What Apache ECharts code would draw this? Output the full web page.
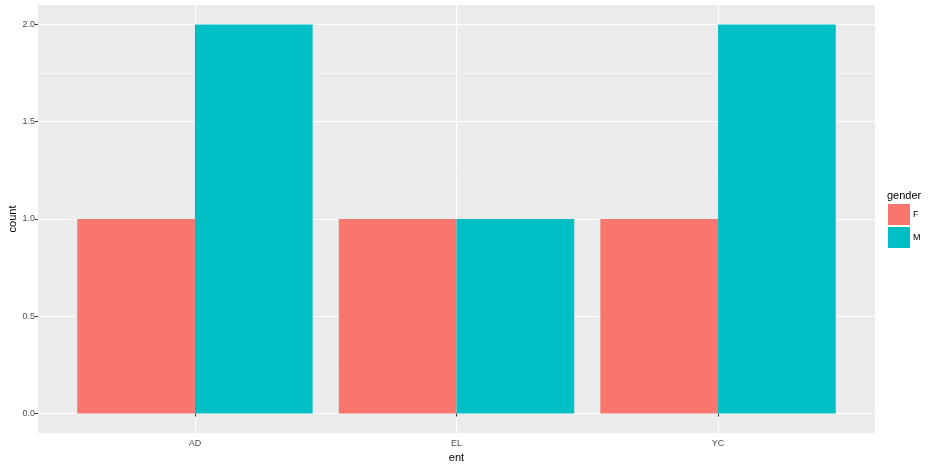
<!DOCTYPE html>
<html><head><meta charset="utf-8">
<script src="https://cdn.jsdelivr.net/npm/echarts@6/dist/echarts.min.js"></script>
<style>html,body{margin:0;padding:0;background:#fff}#c{width:940px;height:467px}</style>
</head><body><div id="c"></div>
<script>
var categories = ['AD', 'EL', 'YC'];
var seriesNames = ['F', 'M'];
var valuesF = [1, 1, 1];
var valuesM = [2, 1, 2];
var yTicks = [0, 0.5, 1, 1.5, 2];
var yMinor = [0.25, 0.75, 1.25, 1.75];
var xTickPos = [1, 2, 3];

var FONT = 'Liberation Sans, Arial, sans-serif';
var chart = echarts.init(document.getElementById('c'), null, {renderer: 'canvas'});
var panelL = 38, panelR = 875, panelT = 5, panelB = 433;
var band = (panelR - panelL) / 3.2;
var option = {
  animation: false,
  textStyle: {fontFamily: FONT},
  title: {text: 'gender', left: 887, top: 190, padding: 0, textStyle: {fontSize: 11, fontWeight: 'normal', color: '#000', fontFamily: FONT}},
  legend: {
    orient: 'vertical', left: 888, top: 204, padding: 0, itemWidth: 22, itemHeight: 21, itemGap: 2,
    icon: 'rect', data: seriesNames,
    textStyle: {fontSize: 9, color: '#000', fontFamily: FONT, padding: [0, 0, 0, -2]}
  },
  grid: [
    {left: panelL, right: 940 - panelR, top: panelT, bottom: 467 - panelB, show: true, backgroundColor: '#EBEBEB', borderWidth: 0, containLabel: false, outerBoundsMode: 'none'},
    {left: panelL + 0.1 * band, right: 940 - panelR + 0.1 * band, top: panelT, bottom: 467 - panelB, containLabel: false, outerBoundsMode: 'none'}
  ],
  xAxis: [
    {type: 'value', gridIndex: 0, min: 0.4, max: 3.6,
     name: 'ent', nameLocation: 'middle', nameGap: 19, nameMoveOverlap: false, nameTextStyle: {fontSize: 11, color: '#000', fontFamily: FONT},
     axisLine: {show: false},
     axisTick: {show: true, length: 3, lineStyle: {color: '#333'}, customValues: xTickPos},
     axisLabel: {show: true, margin: 6, fontSize: 9, color: '#4D4D4D', fontFamily: FONT, customValues: xTickPos,
       formatter: function (v) { return categories[Math.round(v) - 1] || ''; }},
     splitLine: {show: true, lineStyle: {color: '#fff', width: 1}}
    },
    {type: 'category', gridIndex: 1, data: categories, show: false}
  ],
  yAxis: [
    {type: 'value', gridIndex: 0, min: -0.1, max: 2.1,
     name: 'count', nameLocation: 'middle', nameGap: 20, nameMoveOverlap: false, nameTextStyle: {fontSize: 11, color: '#000', fontFamily: FONT},
     axisLine: {show: false},
     axisTick: {show: true, length: 3, lineStyle: {color: '#333'}, customValues: yTicks},
     axisLabel: {show: true, margin: 3, fontSize: 9, color: '#4D4D4D', fontFamily: FONT, customValues: yTicks,
       formatter: function (v) { return v.toFixed(1); }},
     splitLine: {show: true, lineStyle: {color: '#fff', width: 1}}
    },
    {type: 'value', gridIndex: 0, min: -0.1, max: 2.1, position: 'left',
     axisLine: {show: false}, axisTick: {show: false, customValues: yMinor},
     axisLabel: {show: false, customValues: yMinor},
     splitLine: {show: true, lineStyle: {color: '#F7F7F7', width: 0.6}}
    },
    {type: 'value', gridIndex: 1, min: -0.1, max: 2.1, show: false, splitLine: {show: false}}
  ],
  series: [
    {name: seriesNames[0], type: 'bar', xAxisIndex: 1, yAxisIndex: 2, data: valuesF,
     barGap: '0%', barCategoryGap: '10%', itemStyle: {color: '#F8766D'}},
    {name: seriesNames[1], type: 'bar', xAxisIndex: 1, yAxisIndex: 2, data: valuesM,
     barGap: '0%', barCategoryGap: '10%', itemStyle: {color: '#00BFC4'}}
  ]
};
chart.setOption(option);
</script>
</body></html>
